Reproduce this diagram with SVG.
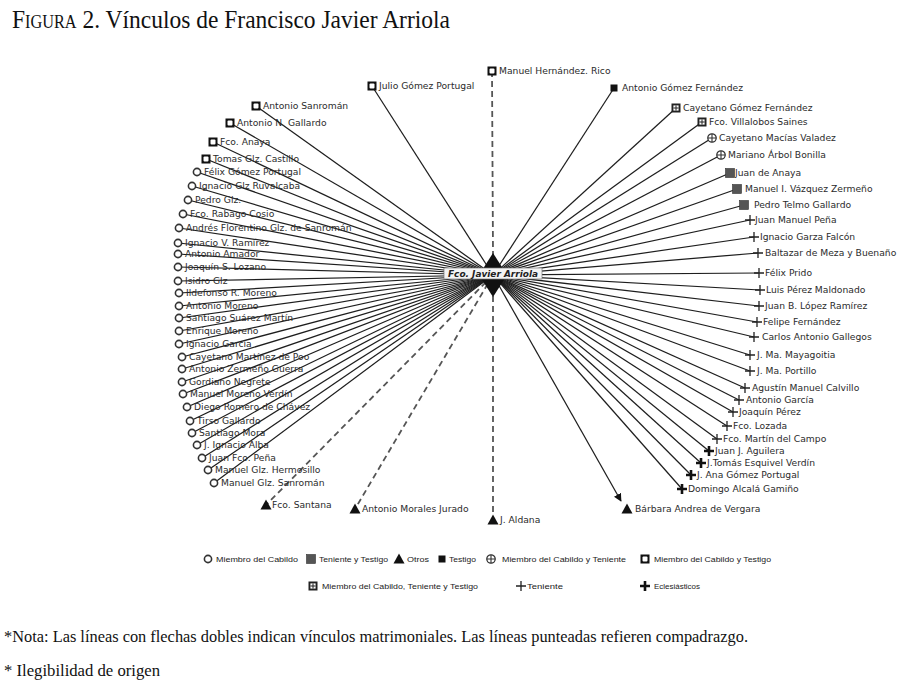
<svg xmlns="http://www.w3.org/2000/svg" width="907" height="687" viewBox="0 0 907 687">
<style>
.lbl{font-family:"DejaVu Sans",Verdana,sans-serif;font-size:9.2px;fill:#2b2b2b}
.c{stroke:#1e1e1e;stroke-width:1.25;fill:none}
.d{stroke:#555;stroke-width:1.8;stroke-dasharray:6 4;fill:none}
.leg{font-family:"Liberation Sans",Arial,sans-serif;font-size:8px;fill:#222}
.ser{font-family:"Liberation Serif","Times New Roman",serif;fill:#111}
</style>
<defs>
<g id="cab"><circle r="3.6" fill="#fff" stroke="#333" stroke-width="1.6"/></g>
<g id="sqsq"><rect x="-4.5" y="-4.5" width="9" height="9" fill="#111"/><rect x="-2.5" y="-2.5" width="5" height="5" rx="1" fill="#fff"/></g>
<g id="tt"><rect x="-4.5" y="-4.5" width="9" height="9" fill="#555" stroke="#333" stroke-width="0.6"/></g>
<g id="tes"><rect x="-3.5" y="-3.5" width="7" height="7" fill="#111"/></g>
<g id="ct"><circle r="4.2" fill="#fff" stroke="#333" stroke-width="1.3"/><path d="M-4.2 0H4.2M0 -4.2V4.2" stroke="#333" stroke-width="1.1"/></g>
<g id="ctt"><rect x="-4.5" y="-4.5" width="9" height="9" fill="#222"/><rect x="-2.6" y="-2.6" width="5.2" height="5.2" fill="#fff"/><path d="M-2.6 0H2.6M0 -2.6V2.6" stroke="#222" stroke-width="1"/></g>
<g id="ten"><path d="M-5 0H5M0 -5V5" stroke="#222" stroke-width="1.3"/></g>
<g id="ecl"><path d="M-5 0H5M0 -5V5" stroke="#111" stroke-width="2.6"/></g>
<g id="otr"><path d="M0 -5.5L5.5 4.5H-5.5Z" fill="#111"/></g>
<marker id="arr" viewBox="0 0 10 10" refX="9" refY="5" markerWidth="8" markerHeight="8" orient="auto" markerUnits="userSpaceOnUse"><path d="M0 0L10 5L0 10Z" fill="#111"/></marker>
</defs>
<rect width="907" height="687" fill="#fff"/>
<text class="ser" x="12" y="28" font-size="26" textLength="438" lengthAdjust="spacingAndGlyphs"><tspan font-variant="small-caps">Figura</tspan> 2. Vínculos de Francisco Javier Arriola</text>

<g id="connectors">
<line class="d" x1="492" y1="71" x2="493" y2="255"/>
<line class="d" x1="493" y1="296" x2="493" y2="516"/>
<line class="d" x1="493" y1="275" x2="266" y2="505"/>
<line class="d" x1="493" y1="275" x2="355" y2="509"/>
<line class="c" x1="493" y1="275" x2="621" y2="501" marker-end="url(#arr)"/>
<line class="c" x1="493" y1="275" x2="372" y2="86"/>
<line class="c" x1="493" y1="275" x2="614" y2="88"/>
<line class="c" x1="493" y1="275" x2="256" y2="106"/>
<line class="c" x1="493" y1="275" x2="230" y2="123"/>
<line class="c" x1="493" y1="275" x2="213" y2="142"/>
<line class="c" x1="493" y1="275" x2="206" y2="159"/>
<line class="c" x1="493" y1="275" x2="197" y2="172"/>
<line class="c" x1="493" y1="275" x2="192" y2="186"/>
<line class="c" x1="493" y1="275" x2="188" y2="200"/>
<line class="c" x1="493" y1="275" x2="183" y2="214"/>
<line class="c" x1="493" y1="275" x2="179" y2="228"/>
<line class="c" x1="493" y1="275" x2="178" y2="243"/>
<line class="c" x1="493" y1="275" x2="178" y2="254"/>
<line class="c" x1="493" y1="275" x2="178" y2="267"/>
<line class="c" x1="493" y1="275" x2="178" y2="281"/>
<line class="c" x1="493" y1="275" x2="179" y2="293"/>
<line class="c" x1="493" y1="275" x2="179" y2="306"/>
<line class="c" x1="493" y1="275" x2="179" y2="318"/>
<line class="c" x1="493" y1="275" x2="179" y2="331"/>
<line class="c" x1="493" y1="275" x2="179" y2="344"/>
<line class="c" x1="493" y1="275" x2="182" y2="357"/>
<line class="c" x1="493" y1="275" x2="182" y2="369"/>
<line class="c" x1="493" y1="275" x2="182" y2="382"/>
<line class="c" x1="493" y1="275" x2="183" y2="394"/>
<line class="c" x1="493" y1="275" x2="187" y2="407"/>
<line class="c" x1="493" y1="275" x2="190" y2="421"/>
<line class="c" x1="493" y1="275" x2="192" y2="433"/>
<line class="c" x1="493" y1="275" x2="197" y2="445"/>
<line class="c" x1="493" y1="275" x2="202" y2="458"/>
<line class="c" x1="493" y1="275" x2="208" y2="470"/>
<line class="c" x1="493" y1="275" x2="214" y2="483"/>
<line class="c" x1="493" y1="275" x2="676" y2="108"/>
<line class="c" x1="493" y1="275" x2="702" y2="122"/>
<line class="c" x1="493" y1="275" x2="712" y2="138"/>
<line class="c" x1="493" y1="275" x2="721" y2="155"/>
<line class="c" x1="493" y1="275" x2="730" y2="173"/>
<line class="c" x1="493" y1="275" x2="737" y2="189"/>
<line class="c" x1="493" y1="275" x2="744" y2="205"/>
<line class="c" x1="493" y1="275" x2="750" y2="220"/>
<line class="c" x1="493" y1="275" x2="754" y2="237"/>
<line class="c" x1="493" y1="275" x2="758" y2="253"/>
<line class="c" x1="493" y1="275" x2="759" y2="273"/>
<line class="c" x1="493" y1="275" x2="760" y2="290"/>
<line class="c" x1="493" y1="275" x2="759" y2="306"/>
<line class="c" x1="493" y1="275" x2="757" y2="322"/>
<line class="c" x1="493" y1="275" x2="754" y2="337"/>
<line class="c" x1="493" y1="275" x2="750" y2="355"/>
<line class="c" x1="493" y1="275" x2="750" y2="371"/>
<line class="c" x1="493" y1="275" x2="745" y2="388"/>
<line class="c" x1="493" y1="275" x2="739" y2="400"/>
<line class="c" x1="493" y1="275" x2="733" y2="412"/>
<line class="c" x1="493" y1="275" x2="727" y2="426"/>
<line class="c" x1="493" y1="275" x2="717" y2="439"/>
<line class="c" x1="493" y1="275" x2="709" y2="451"/>
<line class="c" x1="493" y1="275" x2="701" y2="463"/>
<line class="c" x1="493" y1="275" x2="691" y2="475"/>
<line class="c" x1="493" y1="275" x2="682" y2="489"/>
</g>

<g id="center">
<path d="M493 253L507 275L493 297L479 275Z" fill="#111"/>
<rect x="444" y="268" width="98" height="11" fill="#f4f4f4" stroke="#777" stroke-width="0.7"/>
<text x="493" y="277" text-anchor="middle" font-family="DejaVu Sans,Verdana,sans-serif" font-size="8.2" font-weight="bold" font-style="italic" fill="#222" textLength="90" lengthAdjust="spacingAndGlyphs">Fco. Javier Arriola</text>
</g>

<g id="n-julio"><use href="#sqsq" x="372" y="86"/><text class="lbl" x="379" y="89.3">Julio Gómez Portugal</text></g>
<g id="n-manuelhr"><use href="#sqsq" x="492" y="71"/><text class="lbl" x="499" y="74.3">Manuel Hernández. Rico</text></g>
<g id="n-antoniogf"><use href="#tes" x="614" y="88"/><text class="lbl" x="622" y="91.3">Antonio Gómez Fernández</text></g>

<g id="n-l1"><use href="#sqsq" x="256" y="106"/><text class="lbl" x="263" y="109.3">Antonio Sanromán</text></g>
<g id="n-l2"><use href="#sqsq" x="230" y="123"/><text class="lbl" x="237" y="126.3">Antonio N. Gallardo</text></g>
<g id="n-l3"><use href="#sqsq" x="213" y="142"/><text class="lbl" x="220" y="145.3">Fco. Anaya</text></g>
<g id="n-l4"><use href="#sqsq" x="206" y="159"/><text class="lbl" x="213" y="162.3">Tomas Glz. Castillo</text></g>
<g id="n-l5"><use href="#cab" x="197" y="172"/><text class="lbl" x="204" y="175.3">Félix Gómez Portugal</text></g>
<g id="n-l6"><use href="#cab" x="192" y="186"/><text class="lbl" x="199" y="189.3">Ignacio Glz Ruvalcaba</text></g>
<g id="n-l7"><use href="#cab" x="188" y="200"/><text class="lbl" x="195" y="203.3">Pedro Glz.</text></g>
<g id="n-l8"><use href="#cab" x="183" y="214"/><text class="lbl" x="190" y="217.3">Fco. Rabago Cosio</text></g>
<g id="n-l9"><use href="#cab" x="179" y="228"/><text class="lbl" x="186" y="231.3">Andrés Florentino Glz. de Sanromán</text></g>
<g id="n-l10"><use href="#cab" x="178" y="243"/><text class="lbl" x="185" y="246.3">Ignacio V. Ramírez</text></g>
<g id="n-l11"><use href="#cab" x="178" y="254"/><text class="lbl" x="185" y="257.3">Antonio Amador</text></g>
<g id="n-l12"><use href="#cab" x="178" y="267"/><text class="lbl" x="185" y="270.3">Joaquín S. Lozano</text></g>
<g id="n-l13"><use href="#cab" x="178" y="281"/><text class="lbl" x="185" y="284.3">Isidro Glz</text></g>
<g id="n-l14"><use href="#cab" x="179" y="293"/><text class="lbl" x="186" y="296.3">Ildefonso R. Moreno</text></g>
<g id="n-l15"><use href="#cab" x="179" y="306"/><text class="lbl" x="186" y="309.3">Antonio Moreno</text></g>
<g id="n-l16"><use href="#cab" x="179" y="318"/><text class="lbl" x="186" y="321.3">Santiago Suárez Martín</text></g>
<g id="n-l17"><use href="#cab" x="179" y="331"/><text class="lbl" x="186" y="334.3">Enrique Moreno</text></g>
<g id="n-l18"><use href="#cab" x="179" y="344"/><text class="lbl" x="186" y="347.3">Ignacio García</text></g>
<g id="n-l19"><use href="#cab" x="182" y="357"/><text class="lbl" x="189" y="360.3">Cayetano Martínez de Poo</text></g>
<g id="n-l20"><use href="#cab" x="182" y="369"/><text class="lbl" x="189" y="372.3">Antonio Zermeño Guerra</text></g>
<g id="n-l21"><use href="#cab" x="182" y="382"/><text class="lbl" x="189" y="385.3">Gordiano Negrete</text></g>
<g id="n-l22"><use href="#cab" x="183" y="394"/><text class="lbl" x="190" y="397.3">Manuel Moreno Verdín</text></g>
<g id="n-l23"><use href="#cab" x="187" y="407"/><text class="lbl" x="194" y="410.3">Diego Romero de Chávez</text></g>
<g id="n-l24"><use href="#cab" x="190" y="421"/><text class="lbl" x="197" y="424.3">Tirso Gallardo</text></g>
<g id="n-l25"><use href="#cab" x="192" y="433"/><text class="lbl" x="199" y="436.3">Santiago Mora</text></g>
<g id="n-l26"><use href="#cab" x="197" y="445"/><text class="lbl" x="204" y="448.3">J. Ignacio Alba</text></g>
<g id="n-l27"><use href="#cab" x="202" y="458"/><text class="lbl" x="209" y="461.3">Juan Fco. Peña</text></g>
<g id="n-l28"><use href="#cab" x="208" y="470"/><text class="lbl" x="215" y="473.3">Manuel Glz. Hermosillo</text></g>
<g id="n-l29"><use href="#cab" x="214" y="483"/><text class="lbl" x="221" y="486.3">Manuel Glz. Sanromán</text></g>

<g id="n-b1"><use href="#otr" x="266" y="505"/><text class="lbl" x="272" y="508.3">Fco. Santana</text></g>
<g id="n-b2"><use href="#otr" x="355" y="509"/><text class="lbl" x="362" y="512.3">Antonio Morales Jurado</text></g>
<g id="n-b3"><use href="#otr" x="493" y="520"/><text class="lbl" x="500" y="523.3">J. Aldana</text></g>
<g id="n-b4"><use href="#otr" x="627" y="509"/><text class="lbl" x="635" y="512.3">Bárbara Andrea de Vergara</text></g>

<g id="n-r1"><use href="#ctt" x="676" y="108"/><text class="lbl" x="683" y="111.3">Cayetano Gómez Fernández</text></g>
<g id="n-r2"><use href="#ctt" x="702" y="122"/><text class="lbl" x="709" y="125.3">Fco. Villalobos Saines</text></g>
<g id="n-r3"><use href="#ct" x="712" y="138"/><text class="lbl" x="719" y="141.3">Cayetano Macías Valadez</text></g>
<g id="n-r4"><use href="#ct" x="721" y="155"/><text class="lbl" x="728" y="158.3">Mariano Árbol Bonilla</text></g>
<g id="n-r5"><use href="#tt" x="730" y="173"/><text class="lbl" x="735" y="176.3">Juan de Anaya</text></g>
<g id="n-r6"><use href="#tt" x="737" y="189"/><text class="lbl" x="745" y="192.3">Manuel I. Vázquez Zermeño</text></g>
<g id="n-r7"><use href="#tt" x="744" y="205"/><text class="lbl" x="754" y="208.3">Pedro Telmo Gallardo</text></g>
<g id="n-r8"><use href="#ten" x="750" y="220"/><text class="lbl" x="755" y="223.3">Juan Manuel Peña</text></g>
<g id="n-r9"><use href="#ten" x="754" y="237"/><text class="lbl" x="760" y="240.3">Ignacio Garza Falcón</text></g>
<g id="n-r10"><use href="#ten" x="758" y="253"/><text class="lbl" x="765" y="256.3">Baltazar de Meza y Buenaño</text></g>
<g id="n-r11"><use href="#ten" x="759" y="273"/><text class="lbl" x="765" y="276.3">Félix Prido</text></g>
<g id="n-r12"><use href="#ten" x="760" y="290"/><text class="lbl" x="766" y="293.3">Luis Pérez Maldonado</text></g>
<g id="n-r13"><use href="#ten" x="759" y="306"/><text class="lbl" x="765" y="309.3">Juan B. López Ramírez</text></g>
<g id="n-r14"><use href="#ten" x="757" y="322"/><text class="lbl" x="763" y="325.3">Felipe Fernández</text></g>
<g id="n-r15"><use href="#ten" x="754" y="337"/><text class="lbl" x="762" y="340.3">Carlos Antonio Gallegos</text></g>
<g id="n-r16"><use href="#ten" x="750" y="355"/><text class="lbl" x="757" y="358.3">J. Ma. Mayagoitia</text></g>
<g id="n-r17"><use href="#ten" x="750" y="371"/><text class="lbl" x="757" y="374.3">J. Ma. Portillo</text></g>
<g id="n-r18"><use href="#ten" x="745" y="388"/><text class="lbl" x="752" y="391.3">Agustín Manuel Calvillo</text></g>
<g id="n-r19"><use href="#ten" x="739" y="400"/><text class="lbl" x="746" y="403.3">Antonio García</text></g>
<g id="n-r20"><use href="#ten" x="733" y="412"/><text class="lbl" x="739" y="415.3">Joaquín Pérez</text></g>
<g id="n-r21"><use href="#ten" x="727" y="426"/><text class="lbl" x="733" y="429.3">Fco. Lozada</text></g>
<g id="n-r22"><use href="#ten" x="717" y="439"/><text class="lbl" x="723" y="442.3">Fco. Martín del Campo</text></g>
<g id="n-r23"><use href="#ecl" x="709" y="451"/><text class="lbl" x="715" y="454.3">Juan J. Aguilera</text></g>
<g id="n-r24"><use href="#ecl" x="701" y="463"/><text class="lbl" x="707" y="466.3">J.Tomás Esquivel Verdín</text></g>
<g id="n-r25"><use href="#ecl" x="691" y="475"/><text class="lbl" x="697" y="478.3">J. Ana Gómez Portugal</text></g>
<g id="n-r26"><use href="#ecl" x="682" y="489"/><text class="lbl" x="688" y="492.3">Domingo Alcalá Gamiño</text></g>

<g id="legend">
<use href="#cab" x="208" y="559"/><text class="leg" x="216" y="562" textLength="82" lengthAdjust="spacingAndGlyphs">Miembro del Cabildo</text>
<use href="#tt" x="311" y="559"/><text class="leg" x="319" y="562" textLength="69" lengthAdjust="spacingAndGlyphs">Teniente y Testigo</text>
<use href="#otr" x="399" y="559"/><text class="leg" x="407" y="562" textLength="22" lengthAdjust="spacingAndGlyphs">Otros</text>
<use href="#tes" x="442" y="559"/><text class="leg" x="449" y="562" textLength="27" lengthAdjust="spacingAndGlyphs">Testigo</text>
<use href="#ct" x="491" y="559"/><text class="leg" x="502" y="562" textLength="124" lengthAdjust="spacingAndGlyphs">Miembro del Cabildo y Teniente</text>
<use href="#sqsq" x="645" y="559"/><text class="leg" x="654" y="562" textLength="117" lengthAdjust="spacingAndGlyphs">Miembro del Cabildo y Testigo</text>
<use href="#ctt" x="313" y="586"/><text class="leg" x="322" y="589" textLength="156" lengthAdjust="spacingAndGlyphs">Miembro del Cabildo, Teniente y Testigo</text>
<use href="#ten" x="521" y="586"/><text class="leg" x="527" y="589" textLength="36" lengthAdjust="spacingAndGlyphs">Teniente</text>
<use href="#ecl" x="645" y="586"/><text class="leg" x="654" y="589" textLength="46" lengthAdjust="spacingAndGlyphs">Eclesiásticos</text>
</g>

<text class="ser" x="4" y="642" font-size="16" textLength="744" lengthAdjust="spacingAndGlyphs">*Nota: Las líneas con flechas dobles indican vínculos matrimoniales. Las líneas punteadas refieren compadrazgo.</text>
<text class="ser" x="4" y="676" font-size="16" textLength="156" lengthAdjust="spacingAndGlyphs">* Ilegibilidad de origen</text>
</svg>
